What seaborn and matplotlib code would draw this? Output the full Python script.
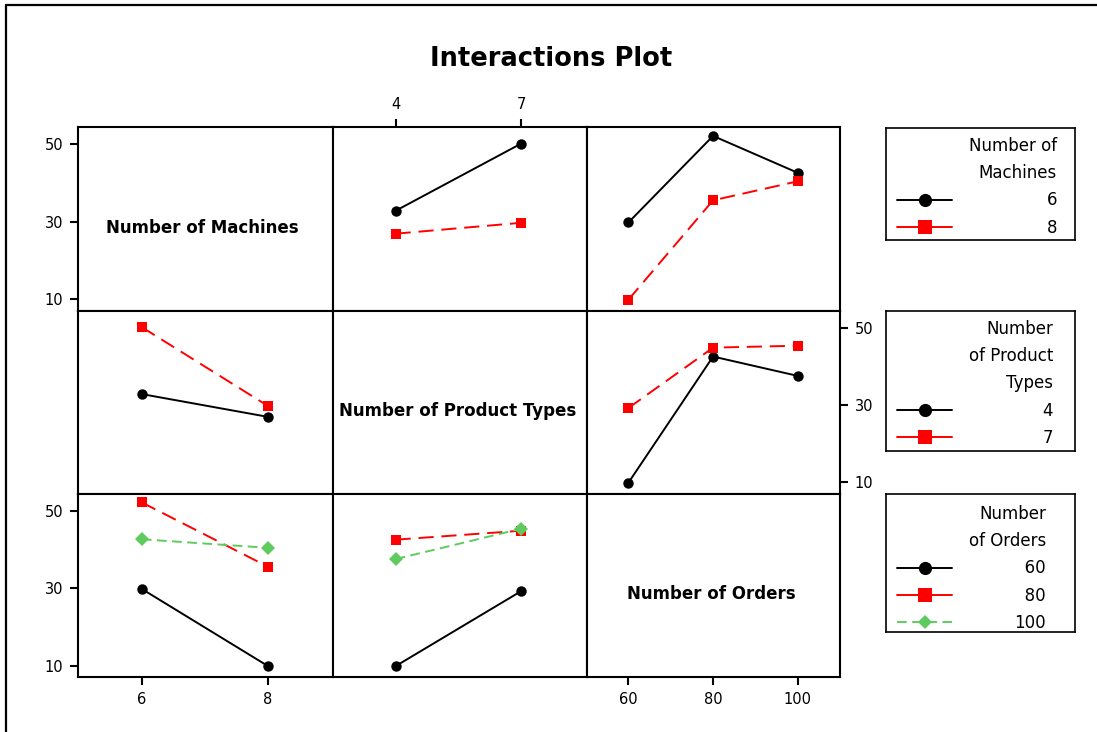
import numpy as np
import pandas as pd
import matplotlib
matplotlib.use("Agg")
import matplotlib.pyplot as plt
import matplotlib.lines as mlines
import seaborn as sns

# Factor levels
machines = [6, 8]
product_types = [4, 7]
orders = [60, 80, 100]

factor_names = ["Number of Machines", "Number of Product Types", "Number of Orders"]
legend_titles = ["Number of\nMachines", "Number\nof Product\nTypes", "Number\nof Orders"]

# Mean response for each pair of factors (rows: first factor, columns: second factor)
machines6_by_types = [32.8, 50.1]
machines8_by_types = [26.9, 29.7]
machines6_by_orders = [29.8, 52.1, 42.6]
machines8_by_orders = [9.9, 35.5, 40.4]
types4_by_orders = [9.9, 42.5, 37.5]
types7_by_orders = [29.2, 44.8, 45.3]

y_ticks = [10, 30, 50]

sns.set_style("ticks")
plt.rcParams["font.family"] = ["DejaVu Sans"]
for key in ["text.color", "axes.labelcolor", "xtick.color", "ytick.color",
            "xtick.labelcolor", "ytick.labelcolor", "axes.edgecolor"]:
    plt.rcParams[key] = "black"

W, H = 1097, 732
fig = plt.figure(figsize=(W / 100, H / 100), dpi=100)

levels = [machines, product_types, orders]
pair_means = {
    (0, 1): np.array([machines6_by_types, machines8_by_types]),
    (0, 2): np.array([machines6_by_orders, machines8_by_orders]),
    (1, 2): np.array([types4_by_orders, types7_by_orders]),
}


def cell_table(r, c):
    if (r, c) in pair_means:
        return pair_means[(r, c)]
    return pair_means[(c, r)].T


trace_colors = ["black", "#FF0000", "#5FCB5F"]
trace_markers = ["o", "s", "D"]
trace_dashes = ["", (7.8, 4.0), (5.0, 2.8)]

# Layout of the 3x3 matrix in pixels
col_edges = [78, 332.5, 587, 840]
row_edges = [127, 310.5, 493.5, 677]
x_limits = [(4.99, 9.02), (2.49, 8.58), (50.2, 110.0)]
y_limits = (7.1, 54.4)


def px_box(x0, x1, y0, y1):
    return [x0 / W, 1 - y1 / H, (x1 - x0) / W, (y1 - y0) / H]


for r in range(3):
    for c in range(3):
        ax = fig.add_axes(px_box(col_edges[c], col_edges[c + 1], row_edges[r], row_edges[r + 1]))
        for sp in ax.spines.values():
            sp.set_visible(True)
            sp.set_linewidth(1.5)
            sp.set_color("black")
        ax.set_xlim(*x_limits[c])
        ax.set_ylim(*y_limits)
        ax.tick_params(direction="out", length=6, width=1.5, labelsize=10.5,
                       pad=4.5, color="black", labelcolor="black")
        ax.set_xticks([])
        ax.set_yticks([])

        if r == c:
            ax.text(0.49, 0.45, factor_names[r], transform=ax.transAxes,
                    ha="center", va="center", fontsize=12, fontweight="bold",
                    color="black")
        else:
            table = cell_table(r, c)
            rows = []
            for i, lev_r in enumerate(levels[r]):
                for j, lev_c in enumerate(levels[c]):
                    rows.append({"x": lev_c, "y": table[i, j], "trace": str(lev_r)})
            df = pd.DataFrame(rows)
            order = [str(v) for v in levels[r]]
            sns.lineplot(
                data=df, x="x", y="y", hue="trace", style="trace",
                hue_order=order, style_order=order,
                palette={k: trace_colors[n] for n, k in enumerate(order)},
                markers={k: trace_markers[n] for n, k in enumerate(order)},
                dashes={k: trace_dashes[n] for n, k in enumerate(order)},
                markersize=7.5, linewidth=1.4, markeredgewidth=0,
                errorbar=None, legend=False, ax=ax,
            )
            ax.set_xlim(*x_limits[c])
            ax.set_ylim(*y_limits)
        ax.set_xlabel("")
        ax.set_ylabel("")

        # axis scales shown on the outer panels only
        if c == 0 and r in (0, 2):
            ax.set_yticks(y_ticks)
        if c == 2 and r == 1:
            ax.yaxis.tick_right()
            ax.set_yticks(y_ticks)
        if r == 0 and c == 1:
            ax.xaxis.tick_top()
            ax.set_xticks(levels[c])
        if r == 2 and c in (0, 2):
            ax.set_xticks(levels[c])

fig.text(551 / W, 1 - 59 / H, "Interactions Plot", ha="center", va="center",
         fontsize=18.5, fontweight="bold", color="black")

# Legend boxes
legend_boxes = [(886, 1075, 128, 240), (886, 1075, 311, 451), (886, 1075, 494, 632)]
legend_anchor = [(1057, 137), (1053, 320), (1046, 505)]
legend_pads = [5.66, 5.42, 3.73]

for k in range(3):
    x0, x1, y0, y1 = legend_boxes[k]
    lax = fig.add_axes(px_box(x0, x1, y0, y1))
    lax.set_xticks([])
    lax.set_yticks([])
    for sp in lax.spines.values():
        sp.set_visible(True)
        sp.set_linewidth(1.2)
        sp.set_color("black")
    handles = []
    for n in range(len(levels[k])):
        ls = "-" if n < 2 else (0, trace_dashes[n])
        handles.append(mlines.Line2D([], [], color=trace_colors[n], marker=trace_markers[n],
                                     markersize=9.5 if n < 2 else 7.5, markeredgewidth=0,
                                     linewidth=1.4, linestyle=ls))
    width = max(len(str(v)) for v in levels[k])
    labels = ["\u2007" * (width - len(str(v))) + str(v) for v in levels[k]]
    ax_x, ax_y = legend_anchor[k]
    leg = lax.legend(handles, labels, title=legend_titles[k], loc="upper right",
                     bbox_to_anchor=(ax_x / W, 1 - ax_y / H), bbox_transform=fig.transFigure,
                     frameon=False, borderpad=0, borderaxespad=0, handlelength=3.3,
                     handletextpad=legend_pads[k], labelspacing=0.56, fontsize=12,
                     title_fontsize=12, alignment="right", labelcolor="black")
    leg.get_title().set_multialignment("right")
    leg.get_title().set_linespacing(1.65)
    leg.get_title().set_color("black")

# Page frame: top and left edges
fig.add_artist(mlines.Line2D([6 / W, 1.0], [1 - 5 / H, 1 - 5 / H], color="black",
                             linewidth=1.6, transform=fig.transFigure))
fig.add_artist(mlines.Line2D([6 / W, 6 / W], [0.0, 1 - 5 / H], color="black",
                             linewidth=1.6, transform=fig.transFigure))

fig.savefig("out.png", dpi=100)
